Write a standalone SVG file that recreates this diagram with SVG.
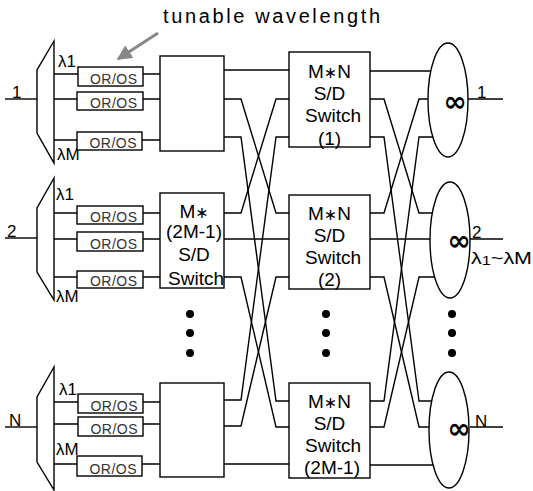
<svg xmlns="http://www.w3.org/2000/svg" width="533" height="491" viewBox="0 0 533 491">
<style>
.ln{fill:none;stroke:#000;stroke-width:1.4}
.bx{fill:#fff;stroke:#000;stroke-width:1.4}
.or{font-family:"Liberation Sans",Arial,sans-serif;font-size:14px;fill:#333;text-anchor:middle}
.sw{font-family:"Liberation Sans","DejaVu Sans",sans-serif;font-size:19px;fill:#000;text-anchor:middle}
.st{font-size:16px}
.lb{font-family:"Liberation Sans","DejaVu Sans",sans-serif;font-size:17px;fill:#000}
.inf{font-family:"DejaVu Sans",sans-serif;font-weight:bold;font-size:28px;fill:#000;text-anchor:middle}
.dot{fill:#000}
</style>
<defs>
<marker id="ah" viewBox="0 0 10 10" refX="9" refY="5" markerWidth="5" markerHeight="5" orient="auto" markerUnits="strokeWidth">
<path d="M0,0 L10,5 L0,10 z" fill="#888"/>
</marker>
</defs>

<g id="title">
<text x="163" y="23" font-family="'Liberation Sans',Arial,sans-serif" font-size="20" textLength="217" lengthAdjust="spacing">tunable wavelength</text>
<line x1="158" y1="33" x2="118" y2="59" stroke="#888" stroke-width="3" marker-end="url(#ah)"/>
</g>

<g id="connectors">
<!-- inputs -->
<line class="ln" x1="5" y1="99" x2="37" y2="99"/>
<line class="ln" x1="5" y1="238" x2="37" y2="238"/>
<line class="ln" x1="5" y1="427" x2="37" y2="427"/>
<!-- demux to middle boxes -->
<line class="ln" x1="54" y1="74" x2="160" y2="74"/>
<line class="ln" x1="54" y1="99" x2="160" y2="99"/>
<line class="ln" x1="54" y1="140" x2="160" y2="140"/>
<line class="ln" x1="54" y1="213" x2="160" y2="213"/>
<line class="ln" x1="54" y1="239" x2="160" y2="239"/>
<line class="ln" x1="54" y1="277" x2="160" y2="277"/>
<line class="ln" x1="54" y1="402" x2="160" y2="402"/>
<line class="ln" x1="54" y1="424" x2="160" y2="424"/>
<line class="ln" x1="54" y1="464" x2="160" y2="464"/>
<!-- middle to switches -->
<line class="ln" x1="224" y1="70" x2="289" y2="70"/>
<line class="ln" x1="224" y1="239" x2="289" y2="239"/>
<line class="ln" x1="224" y1="464" x2="289" y2="464"/>
<polyline class="ln" points="224,99 241,99 276,213 289,213"/>
<polyline class="ln" points="224,137 241,137 276,401 289,401"/>
<polyline class="ln" points="224,213 241,213 276,99 289,99"/>
<polyline class="ln" points="224,277 241,277 276,427 289,427"/>
<polyline class="ln" points="224,400 241,400 276,137 289,137"/>
<polyline class="ln" points="224,426 241,426 276,277 289,277"/>
<!-- switches to combiners -->
<line class="ln" x1="370" y1="71" x2="440" y2="71"/>
<line class="ln" x1="370" y1="239" x2="440" y2="239"/>
<line class="ln" x1="370" y1="465" x2="440" y2="465"/>
<polyline class="ln" points="370,99 384,99 419,213 440,213"/>
<polyline class="ln" points="370,137 384,137 419,401 440,401"/>
<polyline class="ln" points="370,213 384,213 419,99 440,99"/>
<polyline class="ln" points="370,277 384,277 419,427 440,427"/>
<polyline class="ln" points="370,401 384,401 419,137 440,137"/>
<polyline class="ln" points="370,427 384,427 419,277 440,277"/>
<!-- outputs -->
<line class="ln" x1="468" y1="99" x2="503" y2="99"/>
<line class="ln" x1="470" y1="239" x2="503" y2="239"/>
<line class="ln" x1="470" y1="427" x2="503" y2="427"/>
</g>

<g id="demux1">
<polygon class="bx" points="54,41 37,70 37,133 54,163"/>
<text class="lb" x="12" y="98">1</text>
<text class="lb" x="58" y="67">λ1</text>
<text class="lb" x="57" y="160">λM</text>
</g>
<g id="demux2">
<polygon class="bx" points="54,178 37,208 37,272 54,300"/>
<text class="lb" x="7" y="237">2</text>
<text class="lb" x="56" y="200">λ1</text>
<text class="lb" x="56" y="302">λM</text>
</g>
<g id="demuxN">
<polygon class="bx" points="54,367 37,397 37,462 54,490"/>
<text class="lb" x="9" y="426">N</text>
<text class="lb" x="59" y="395">λ1</text>
<text class="lb" x="56" y="455">λM</text>
</g>

<g id="oros1">
<rect class="bx" x="78" y="67" width="65" height="19"/><text class="or" x="113.5" y="84" textLength="47">OR/OS</text>
<rect class="bx" x="77" y="92" width="66" height="18"/><text class="or" x="113.5" y="108" textLength="47">OR/OS</text>
<rect class="bx" x="77" y="132" width="65" height="18"/><text class="or" x="113" y="148" textLength="47">OR/OS</text>
</g>
<g id="oros2">
<rect class="bx" x="77" y="206" width="66" height="18"/><text class="or" x="113.5" y="222" textLength="47">OR/OS</text>
<rect class="bx" x="77" y="232" width="66" height="19"/><text class="or" x="113.5" y="249" textLength="47">OR/OS</text>
<rect class="bx" x="77" y="271" width="66" height="17"/><text class="or" x="113.5" y="286" textLength="47">OR/OS</text>
</g>
<g id="orosN">
<rect class="bx" x="78" y="394" width="65" height="19"/><text class="or" x="114" y="411" textLength="47">OR/OS</text>
<rect class="bx" x="78" y="417" width="65" height="19"/><text class="or" x="114" y="434" textLength="47">OR/OS</text>
<rect class="bx" x="77" y="456" width="65" height="20"/><text class="or" x="113" y="474" textLength="47">OR/OS</text>
</g>

<g id="mid1"><rect class="bx" x="160" y="56" width="64" height="95"/></g>
<g id="mid2">
<rect class="bx" x="160" y="193" width="64" height="95"/>
<text class="sw" x="194" y="218">M<tspan class="st">∗</tspan></text>
<text class="sw" x="194" y="238">(2M-1)</text>
<text class="sw" x="194" y="261">S/D</text>
<text class="sw" x="196" y="285">Switch</text>
</g>
<g id="midN"><rect class="bx" x="160" y="383" width="64" height="94"/></g>

<g id="sw1">
<rect class="bx" x="289" y="52" width="81" height="95"/>
<text class="sw" x="329.5" y="78">M<tspan class="st">∗</tspan>N</text>
<text class="sw" x="329.5" y="100">S/D</text>
<text class="sw" x="333" y="122">Switch</text>
<text class="sw" x="329.5" y="145">(1)</text>
</g>
<g id="sw2">
<rect class="bx" x="289" y="195" width="81" height="94"/>
<text class="sw" x="329.5" y="220">M<tspan class="st">∗</tspan>N</text>
<text class="sw" x="329.5" y="242">S/D</text>
<text class="sw" x="333" y="264">Switch</text>
<text class="sw" x="329.5" y="286">(2)</text>
</g>
<g id="sw3">
<rect class="bx" x="289" y="383" width="81" height="95"/>
<text class="sw" x="329.5" y="408">M<tspan class="st">∗</tspan>N</text>
<text class="sw" x="329.5" y="430">S/D</text>
<text class="sw" x="333" y="452">Switch</text>
<text class="sw" x="332" y="474">(2M-1)</text>
</g>

<g id="comb1">
<ellipse class="bx" cx="448" cy="100" rx="20" ry="57"/>
<text class="inf" x="455" y="111">∞</text>
<text class="lb" x="477" y="98">1</text>
</g>
<g id="comb2">
<ellipse class="bx" cx="450" cy="240" rx="20" ry="58"/>
<text class="inf" x="459" y="250">∞</text>
<text class="lb" x="472" y="238">2</text>
<text class="lb" x="471" y="264" textLength="61" lengthAdjust="spacingAndGlyphs">λ<tspan font-size="13" dy="1">1</tspan><tspan dy="-1">~λM</tspan></text>
</g>
<g id="comb3">
<ellipse class="bx" cx="449" cy="430" rx="20" ry="58"/>
<text class="inf" x="459" y="438">∞</text>
<text class="lb" x="475" y="427">N</text>
</g>

<g id="dots">
<circle class="dot" cx="190" cy="314" r="4"/><circle class="dot" cx="190" cy="333" r="4"/><circle class="dot" cx="190" cy="353" r="4"/>
<circle class="dot" cx="326" cy="314" r="4"/><circle class="dot" cx="326" cy="333" r="4"/><circle class="dot" cx="326" cy="353" r="4"/>
<circle class="dot" cx="452" cy="314" r="4"/><circle class="dot" cx="452" cy="333" r="4"/><circle class="dot" cx="452" cy="353" r="4"/>
</g>
</svg>
